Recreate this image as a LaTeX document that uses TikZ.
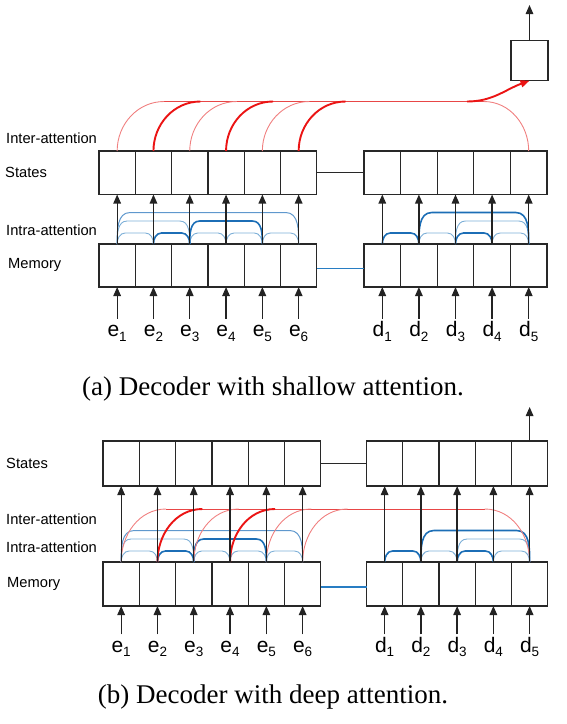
\documentclass[tikz,border=0pt]{standalone}
\usepackage{fontspec}
\setmainfont{Liberation Sans}
\newfontfamily\capfont{Liberation Serif}
\usetikzlibrary{arrows.meta,calc}
\definecolor{boxc}{RGB}{40,40,40}
\definecolor{arrc}{RGB}{35,35,35}
\definecolor{redthin}{RGB}{240,128,128}
\definecolor{redthick}{RGB}{235,20,20}
\definecolor{redline}{RGB}{232,70,70}
\definecolor{bluedark}{RGB}{28,110,182}
\definecolor{bluelight}{RGB}{125,175,215}
\definecolor{bluemid}{RGB}{95,152,205}
\definecolor{memblue}{RGB}{40,125,195}
\newcommand{\sublab}[2]{#1\raisebox{-4.4pt}{\fontsize{13.5}{13.5}\selectfont #2}\vphantom{d}}
\newcommand{\attbridge}[5]{\draw[#1] (#2.north) to[out=90,in=180] ($(#2.north)+(#5,#4)$) -- ($(#3.north)+(-#5,#4)$) to[out=0,in=90] (#3.north);}
\newcommand{\cellrow}[2]{\draw[frame] (#11.north west) rectangle (#1#2.south east);
  \foreach \k in {2,...,#2}{\draw[frame] (#1\k.north west) -- (#1\k.south west);}}
\tikzset{
  cell/.style={inner sep=0pt, outer sep=0pt},
  frame/.style={draw=boxc, line width=1.3pt},
  arr/.style={draw=arrc, line width=1.3pt, -{Triangle[length=9pt,width=7.5pt]}},
  conn/.style={draw=boxc, line width=1.3pt},
  memconn/.style={draw=memblue, line width=1.3pt},
  rthin/.style={draw=redthin, line width=0.9pt},
  rthick/.style={draw=redthick, line width=1.9pt},
  rline/.style={draw=redline, line width=0.9pt},
  bdark/.style={draw=bluedark, line width=1.6pt},
  blight/.style={draw=bluelight, line width=0.9pt},
  bmid/.style={draw=bluemid, line width=1.0pt},
  elab/.style={anchor=base, inner sep=2.5pt, font=\fontsize{21}{22}\selectfont},
  side/.style={anchor=base west, inner sep=0pt, font=\fontsize{14.7}{16}\selectfont},
  caption/.style={anchor=base, inner sep=0pt, font=\capfont\fontsize{27}{30}\selectfont}
}
\begin{document}
\begin{tikzpicture}[x=1pt,y=1pt]
\useasboundingbox (0,0) rectangle (567,-724);
% ================= panel (a) =================
\foreach \i in {1,...,6}{
  \node[cell,minimum width=36.3pt,minimum height=43.5pt] (aS\i) at ({99+36.3*(\i-0.5)},-172.75) {};
  \node[cell,minimum width=36.3pt,minimum height=43pt] (aM\i) at ({99+36.3*(\i-0.5)},-265.5) {};
  \node[elab] (ae\i) at ({99+36.3*(\i-0.5)},-336.7) {\sublab{e}{\i}};
}
\foreach \i in {1,...,5}{
  \node[cell,minimum width=36.6pt,minimum height=43.5pt] (aT\i) at ({364+36.6*(\i-0.5)},-172.75) {};
  \node[cell,minimum width=36.6pt,minimum height=43pt] (aN\i) at ({364+36.6*(\i-0.5)},-265.5) {};
  \node[elab] (ad\i) at ({364+36.6*(\i-0.5)},-336.7) {\sublab{d}{\i}};
}
\cellrow{aS}{6}
\cellrow{aM}{6}
\cellrow{aT}{5}
\cellrow{aN}{5}
\node[cell,draw=boxc,line width=1.3pt,minimum width=37pt,minimum height=40pt] (aOut) at (529.5,-60.7) {};
\coordinate (aTop) at (529.5,-5);
\node[side] (aLInter) at (6,-143.3) {Inter-attention};
\node[side] (aLStates) at (5,-177.3) {States};
\node[side] (aLIntra) at (6,-235) {Intra-attention};
\node[side] (aLMem) at (8,-268.8) {Memory};
\draw[conn] (aS6.east) -- (aT1.west);
\draw[memconn] ([yshift=-3pt]aM6.east) -- ([yshift=-3pt]aN1.west);
% intra attention (a)
\attbridge{bmid}{aM1}{aM6}{31.5}{13}
\attbridge{blight}{aM1}{aM3}{23}{10}
\attbridge{blight}{aM1}{aM2}{11}{8}
\attbridge{blight}{aM3}{aM4}{11}{8}
\attbridge{blight}{aM4}{aM5}{11}{8}
\attbridge{blight}{aM5}{aM6}{11}{8}
\attbridge{bdark}{aM2}{aM3}{11}{8}
\attbridge{bdark}{aM3}{aM5}{23}{10}
\attbridge{blight}{aN2}{aN3}{11}{8}
\attbridge{blight}{aN3}{aN5}{23}{10}
\attbridge{blight}{aN4}{aN5}{11}{8}
\attbridge{bdark}{aN1}{aN2}{11}{8}
\attbridge{bdark}{aN2}{aN5}{31.5}{13}
\attbridge{bdark}{aN3}{aN4}{11}{8}
% inter attention (a)
\coordinate (aL0) at ($(aS1.north)+(47,49.5)$);
\coordinate (aL1) at (467,-101.5);
\coordinate (aL2) at ($(aT5.north)+(-45,49.5)$);
\draw[rline] (aL0) -- (aL2);
\draw[rthin] (aL2) to[out=0,in=90] (aT5.north);
\foreach \i/\s in {1/rthin,2/rthick,3/rthin,4/rthick,5/rthin,6/rthick}
  \draw[\s] (aS\i.north) to[out=90,in=180] ++(47,49.5);
\draw[rthick,-{Triangle[length=9pt,width=7pt]}] (aL1) to[out=0,in=200] (aOut.south);
% arrows (a)
\foreach \i in {1,...,6}{
  \draw[arr] (aM\i.north) -- (aS\i.south);
  \draw[arr] (ae\i.north) -- (aM\i.south);
}
\foreach \i in {1,...,5}{
  \draw[arr] (aN\i.north) -- (aT\i.south);
  \draw[arr] (ad\i.north) -- (aN\i.south);
}
\draw[arr] (aOut.north) -- (aTop);
\node[caption] (capA) at (273,-395) {(a) Decoder with shallow attention.};
% ================= panel (b) =================
\foreach \i in {1,...,6}{
  \node[cell,minimum width=36.3pt,minimum height=45pt] (bS\i) at ({103+36.3*(\i-0.5)},-463.5) {};
  \node[cell,minimum width=36.3pt,minimum height=44pt] (bM\i) at ({103+36.3*(\i-0.5)},-584) {};
  \node[elab] (be\i) at ({103+36.3*(\i-0.5)},-652.3) {\sublab{e}{\i}};
}
\foreach \i in {1,...,5}{
  \node[cell,minimum width=36.25pt,minimum height=45pt] (bT\i) at ({366.5+36.25*(\i-0.5)},-463.5) {};
  \node[cell,minimum width=36.25pt,minimum height=44pt] (bN\i) at ({366.5+36.25*(\i-0.5)},-584) {};
  \node[elab] (bd\i) at ({366.5+36.25*(\i-0.5)},-652.3) {\sublab{d}{\i}};
}
\cellrow{bS}{6}
\cellrow{bM}{6}
\cellrow{bT}{5}
\cellrow{bN}{5}
\coordinate (bTop) at ($(bT5.north)+(0,34)$);
\node[side] (bLStates) at (6,-468.5) {States};
\node[side] (bLInter) at (6,-524) {Inter-attention};
\node[side] (bLIntra) at (6,-552.3) {Intra-attention};
\node[side] (bLMem) at (7,-587.5) {Memory};
\draw[conn] (bS6.east) -- (bT1.west);
\draw[memconn] ([yshift=-3pt]bM6.east) -- ([yshift=-3pt]bN1.west);
% intra attention (b)
\attbridge{bmid}{bM1}{bM6}{31.5}{13}
\attbridge{blight}{bM1}{bM3}{23}{10}
\attbridge{blight}{bM1}{bM2}{11}{8}
\attbridge{blight}{bM3}{bM4}{11}{8}
\attbridge{blight}{bM4}{bM5}{11}{8}
\attbridge{blight}{bM5}{bM6}{11}{8}
\attbridge{bdark}{bM2}{bM3}{11}{8}
\attbridge{bdark}{bM3}{bM5}{23}{10}
\attbridge{blight}{bN2}{bN3}{11}{8}
\attbridge{blight}{bN3}{bN5}{23}{10}
\attbridge{blight}{bN4}{bN5}{11}{8}
\attbridge{bdark}{bN1}{bN2}{11}{8}
\attbridge{bdark}{bN2}{bN5}{31.5}{13}
\attbridge{bdark}{bN3}{bN4}{11}{8}
% inter attention (b)
\coordinate (bL0) at ($(bM1.north)+(45,53)$);
\coordinate (bL2) at ($(bN5.north)+(-45,53)$);
\draw[rline] (bL0) -- (bL2);
\draw[rthin] (bL2) to[out=0,in=90] (bN5.north);
\foreach \i/\s in {1/rthin,2/rthick,3/rthin,4/rthick,5/rthin,6/rthin}
  \draw[\s] (bM\i.north) to[out=90,in=180] ++(45,53);
% arrows (b)
\foreach \i in {1,...,6}{
  \draw[arr] (bM\i.north) -- (bS\i.south);
  \draw[arr] (be\i.north) -- (bM\i.south);
}
\foreach \i in {1,...,5}{
  \draw[arr] (bN\i.north) -- (bT\i.south);
  \draw[arr] (bd\i.north) -- (bN\i.south);
}
\draw[arr] (bT5.north) -- (bTop);
\node[caption] (capB) at (273,-703) {(b) Decoder with deep attention.};
\end{tikzpicture}
\end{document}
